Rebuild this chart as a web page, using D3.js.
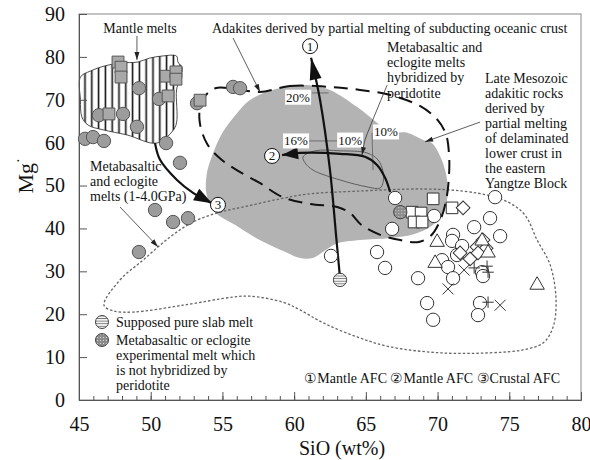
<!DOCTYPE html>
<html>
<head>
<meta charset="utf-8">
<script src="https://cdn.jsdelivr.net/npm/d3@7"></script>
<style>
  html, body { margin: 0; padding: 0; background: #fff; }
  svg { display: block; }
  text { font-family: "Liberation Serif", "Times New Roman", serif; fill: #111; }
</style>
</head>
<body>
<svg id="chart" width="590" height="460"></svg>
<script>
// ---- Data (SiO2 wt%, Mg#) ----
const xTicks = [45, 50, 55, 60, 65, 70, 75, 80];
const yTicks = [0, 10, 20, 30, 40, 50, 60, 70, 80, 90];

// Field of mantle-derived melts (hatched)
const mantleMeltField = [[45.1,75.3],[45.8,76.7],[46.8,77.9],[47.9,78.6],[49.1,78.8],[49.9,79.7],[50.8,80.2],[51.8,80.2],[51.9,78.8],[52.2,77.4],[52.0,74.6],[51.8,72.3],[51.8,64.6],[51.5,62.6],[50.4,59.9],[48.35,61.8],[46.67,63.0],[45.63,64.1],[45.2,66.0],[45.1,70.0]];

// Late Mesozoic adakitic rocks, eastern Yangtze Block (grey field)
const yangtzeField = [[60.4,73.4],[61.1,73.4],[62.5,72.3],[64.4,68.3],[65.8,64.6],[66.7,62.5],[67.9,62.3],[69.0,60.6],[69.6,59.9],[70.2,56.7],[70.6,52.5],[70.7,47.8],[70.4,43.8],[69.6,40.6],[68.4,38.7],[66.7,37.8],[64.6,37.3],[62.9,36.4],[62.0,34.5],[61.3,33.1],[60.4,33.1],[59.4,34.5],[57.6,37.3],[55.9,40.8],[54.5,43.8],[53.9,47.8],[53.9,52.5],[54.3,57.1],[55.0,62.3],[55.9,66.4],[56.9,69.9],[58.5,72.3]];

// Adakites from slab melting (dashed field)
const slabAdakiteField = [[57.6,71.8],[59.7,73.2],[62.5,73.0],[64.6,72.3],[66.7,71.1],[68.8,68.5],[70.0,65.3],[70.6,61.8],[70.8,57.1],[70.8,52.5],[70.6,46.6],[70.2,42.0],[69.5,38.2],[68.6,36.8],[67.4,37.3],[66.0,38.5],[64.7,40.8],[63.9,43.6],[63.0,45.0],[61.1,45.7],[59.2,47.3],[57.6,50.6],[56.0,53.6],[54.8,56.4],[53.9,59.9],[53.4,65.3],[53.6,69.9],[54.5,72.7],[55.9,72.5]];

// Metabasaltic and eclogite melts, 1-4.0 GPa (dotted field)
const eclogiteMeltField = [[46.74,22.1],[47.86,28.0],[49.46,32.6],[51.35,38.0],[52.95,41.5],[54.83,43.8],[56.72,45.2],[59.02,46.9],[60.90,48.0],[64.39,48.7],[68.99,49.2],[71.78,48.7],[73.66,47.6],[75.06,45.9],[76.10,43.1],[76.94,37.3],[77.85,31.5],[78.26,23.3],[78.05,17.0],[77.36,13.3],[75.96,11.7],[73.66,11.0],[70.17,11.0],[66.69,12.4],[64.39,14.7],[62.02,18.0],[60.41,21.0],[59.23,22.8],[56.92,24.2],[55.74,24.0],[52.25,22.1],[48.77,20.5],[47.37,20.8]];

// Melts hybridized by peridotite (thin loop)
const hybridField = [[60.62,56.7],[61.46,58.1],[63.20,58.1],[65.08,57.6],[65.85,56.0],[66.20,53.2],[66.20,50.8],[65.99,49.4],[65.08,49.7],[63.20,51.3],[61.32,53.6],[60.76,55.3]];

// AFC trends
const afc1 = [[63.2,28.4],[62.92,38.5],[62.50,53.6],[61.81,69.9],[61.18,79.8]];
const afc2 = [[66.69,48.5],[66.34,51.8],[65.78,54.8],[64.94,56.7],[63.20,57.4],[60.41,57.6],[59.16,57.1]];
const afc3 = [[50.30,59.9],[50.65,56.0],[51.83,51.3],[52.95,48.3],[54.27,45.9]];
const afcLabels = [{n:"1", x:61.11, y:82.5}, {n:"2", x:58.46, y:56.9}, {n:"3", x:54.69, y:45.5}];

// Experimental melts (grey symbols)
const greyCircles = [[49.18,72.7],[46.39,66.4],[48.07,66.7],[49.04,63.7],[50.58,70.2],[45.42,60.9],[45.98,61.3],[46.74,60.4],[51.07,59.9],[52.04,55.3],[55.74,73.0],[56.23,72.7],[53.23,69.2],[50.30,44.3],[51.56,41.5],[52.60,42.4],[49.18,34.5]];
const greySquares = [[47.72,78.8],[47.93,77.6],[47.93,75.3],[47.09,66.7],[51.07,75.5],[51.76,76.5],[51.76,74.8],[51.21,70.9],[53.44,69.9]];

// Late Mesozoic adakitic rocks (open symbols)
const openCircles = [[67.04,47.1],[69.76,42.9],[66.83,39.9],[62.57,33.6],[65.78,34.5],[66.34,30.8],[68.64,28.4],[74.01,47.3],[73.66,42.4],[72.55,40.3],[74.36,38.2],[71.08,38.5],[71.01,37.1],[71.71,35.9],[71.36,33.8],[70.31,32.6],[70.73,31.0],[71.08,28.4],[69.27,22.6],[69.69,18.7],[72.96,22.6],[72.82,19.8],[73.10,29.8],[73.17,28.9]];
const openSquares = [[68.22,43.8],[68.85,43.6],[68.36,41.5],[68.92,41.5],[69.69,46.9],[71.01,44.8]];
const openDiamonds = [[71.78,44.8],[71.57,34.3],[72.27,32.9],[72.75,35.7],[73.17,37.3],[73.38,35.4],[72.82,34.3]];
const openTriangles = [[69.97,36.8],[69.83,31.9],[73.10,37.1],[73.52,34.3],[76.94,26.8]];
const crosses = [[71.85,30.3],[70.73,25.9],[74.36,22.1]];
const pluses = [[73.45,31.2],[73.52,22.8],[72.55,30.8],[73.52,29.8]];
const slabMelt = [[63.2,28.0]];
const unhybridMelt = [[67.4,43.8]];

// ---- Scales ----
const svg = d3.select("#chart");
const x = d3.scaleLinear().domain([45, 80]).range([79, 581]);
const y = d3.scaleLinear().domain([0, 90]).range([400, 14]);
const P = d => [x(d[0]), y(d[1])];

// ---- Patterns ----
const defs = svg.append("defs");
const vh = defs.append("pattern").attr("id", "vhatch").attr("patternUnits", "userSpaceOnUse")
  .attr("width", 6.8).attr("height", 10);
vh.append("rect").attr("width", 6.8).attr("height", 10).attr("fill", "#fff");
vh.append("line").attr("x1", 3.4).attr("x2", 3.4).attr("y1", 0).attr("y2", 10)
  .attr("stroke", "#111").attr("stroke-width", 1.6);

const hz = defs.append("pattern").attr("id", "hstripe").attr("patternUnits", "userSpaceOnUse")
  .attr("width", 6).attr("height", 2.6);
hz.append("rect").attr("width", 6).attr("height", 2.6).attr("fill", "#fff");
hz.append("line").attr("x1", 0).attr("x2", 6).attr("y1", 1.3).attr("y2", 1.3)
  .attr("stroke", "#777").attr("stroke-width", 1);

const sp = defs.append("pattern").attr("id", "speckle").attr("patternUnits", "userSpaceOnUse")
  .attr("width", 3).attr("height", 3);
sp.append("rect").attr("width", 3).attr("height", 3).attr("fill", "#8c8c8c");
sp.append("rect").attr("x", 1).attr("y", 1).attr("width", 1).attr("height", 1).attr("fill", "#d8d8d8");

const closed = d3.line().x(d => x(d[0])).y(d => y(d[1])).curve(d3.curveCatmullRomClosed.alpha(0.5));
const open = d3.line().x(d => x(d[0])).y(d => y(d[1])).curve(d3.curveCatmullRom.alpha(0.5));

// ---- Fields ----
svg.append("path").attr("d", closed(yangtzeField)).attr("fill", "#b3b3b3");
svg.append("path").attr("d", closed(eclogiteMeltField)).attr("fill", "none")
  .attr("stroke", "#666").attr("stroke-width", 1.3).attr("stroke-dasharray", "2.5,2");
svg.append("path").attr("d", closed(mantleMeltField)).attr("fill", "url(#vhatch)")
  .attr("stroke", "#222").attr("stroke-width", 0.8);
svg.append("path").attr("d", closed(slabAdakiteField)).attr("fill", "none")
  .attr("stroke", "#111").attr("stroke-width", 2).attr("stroke-dasharray", "14,8");
svg.append("path").attr("d", closed(hybridField)).attr("fill", "none")
  .attr("stroke", "#555").attr("stroke-width", 0.9);

// ---- Axes ----
const axisColor = "#555";
svg.append("rect").attr("x", x(45)).attr("y", y(90)).attr("width", x(80) - x(45)).attr("height", y(0) - y(90))
  .attr("fill", "none").attr("stroke", "#888").attr("stroke-width", 1);

const xAxis = svg.append("g").attr("transform", `translate(0,${y(0)})`);
xAxis.call(d3.axisBottom(x).tickValues(d3.range(45, 81, 1)).tickSize(-4).tickFormat(""))
  .call(g => g.select(".domain").attr("stroke", axisColor))
  .call(g => g.selectAll(".tick line").attr("stroke", axisColor));
const xMajor = svg.append("g").attr("transform", `translate(0,${y(0)})`);
xMajor.call(d3.axisBottom(x).tickValues(xTicks).tickSize(-8).tickPadding(17).tickFormat(d3.format("d")))
  .call(g => g.select(".domain").remove())
  .call(g => g.selectAll(".tick line").attr("stroke", axisColor))
  .call(g => g.selectAll("text").attr("font-family", "Liberation Serif").attr("font-size", 20).attr("fill", "#111"));

const yAxis = svg.append("g").attr("transform", `translate(${x(45)},0)`);
yAxis.call(d3.axisLeft(y).tickValues(yTicks).tickSize(-8).tickPadding(14).tickFormat(d3.format("d")))
  .call(g => g.select(".domain").attr("stroke", axisColor))
  .call(g => g.selectAll(".tick line").attr("stroke", axisColor))
  .call(g => g.selectAll("text").attr("font-family", "Liberation Serif").attr("font-size", 20).attr("fill", "#111"));

svg.append("text").attr("x", 299).attr("y", 455).attr("font-size", 20).text("SiO  (wt%)");
svg.append("text").attr("transform", "translate(33,176) rotate(-90)").attr("text-anchor", "middle")
  .attr("font-size", 22).html('Mg<tspan dy="-10" font-size="14">·</tspan>');

// ---- Arrow helpers ----
function arrowHead(p1, p2, len, wid, fill) {
  const dx = p2[0] - p1[0], dy = p2[1] - p1[1];
  const L = Math.hypot(dx, dy), ux = dx / L, uy = dy / L;
  const bx = p2[0] - ux * len, by = p2[1] - uy * len;
  const pts = [[p2[0], p2[1]], [bx - uy * wid / 2, by + ux * wid / 2], [bx + uy * wid / 2, by - ux * wid / 2]];
  svg.append("path").attr("d", "M" + pts.map(p => p.join(",")).join("L") + "Z").attr("fill", fill);
}
function afcArrow(pts, len, wid) {
  svg.append("path").attr("d", open(pts)).attr("fill", "none").attr("stroke", "#111").attr("stroke-width", 2.2);
  const n = pts.length;
  arrowHead(P(pts[n - 2]), P(pts[n - 1]), len, wid, "#111");
}
function noteArrow(pts) {
  svg.append("path").attr("d", open(pts)).attr("fill", "none").attr("stroke", "#333").attr("stroke-width", 0.8);
  const n = pts.length;
  arrowHead(P(pts[n - 2]), P(pts[n - 1]), 8, 5, "#222");
}

// ---- Percent marks along the AFC trends ----
const pctMarks = [
  {t: "20%", x: 60.27, y: 70.6, line: [[61.25, 71.6], [62.4, 71.6]]},
  {t: "16%", x: 60.13, y: 60.4, line: [[61.0, 60.4], [63.0, 60.4]]},
  {t: "10%", x: 63.9, y: 60.6, line: null},
  {t: "10%", x: 66.4, y: 62.5, line: [[65.43, 62.3], [65.5, 53.6]]}
];
pctMarks.forEach(m => {
  if (m.line) svg.append("line").attr("x1", x(m.line[0][0])).attr("y1", y(m.line[0][1]))
    .attr("x2", x(m.line[1][0])).attr("y2", y(m.line[1][1])).attr("stroke", "#666").attr("stroke-width", 0.9);
});

// ---- AFC trends ----
afcArrow(afc1, 22, 12);
afcArrow(afc2, 16, 12);
afcArrow(afc3, 18, 13);

// ---- Symbols ----
const sym = (type, size) => d3.symbol().type(type).size(size)();
function plot(data, path, fill, stroke, rot) {
  svg.append("g").selectAll("path").data(data).join("path")
    .attr("d", path)
    .attr("transform", d => `translate(${x(d[0])},${y(d[1])})` + (rot ? ` rotate(${rot})` : ""))
    .attr("fill", fill).attr("stroke", stroke).attr("stroke-width", 1);
}
const crossType = { draw(ctx, s) { const r = Math.sqrt(s) / 2; ctx.moveTo(-r, -r); ctx.lineTo(r, r); ctx.moveTo(r, -r); ctx.lineTo(-r, r); } };
const plusType = { draw(ctx, s) { const r = Math.sqrt(s) / 2; ctx.moveTo(-r, 0); ctx.lineTo(r, 0); ctx.moveTo(0, -r); ctx.lineTo(0, r); } };

plot(openCircles, sym(d3.symbolCircle, 140), "#fff", "#333");
plot(openSquares, sym(d3.symbolSquare, 135), "#fff", "#333");
plot(openDiamonds, sym(d3.symbolSquare, 95), "#fff", "#333", 45);
plot(openTriangles, sym(d3.symbolTriangle, 90), "#fff", "#333");
plot(crosses, sym(crossType, 120), "none", "#333");
plot(pluses, sym(plusType, 130), "none", "#333");
plot(greyCircles, sym(d3.symbolCircle, 140), "#9c9c9c", "#555");
plot(greySquares, sym(d3.symbolSquare, 140), "#a9a9a9", "#555");
plot(slabMelt, sym(d3.symbolCircle, 140), "url(#hstripe)", "#444");
plot(unhybridMelt, sym(d3.symbolCircle, 140), "url(#speckle)", "#444");

// AFC numbered markers
const lab = svg.append("g").selectAll("g").data(afcLabels).join("g")
  .attr("transform", d => `translate(${x(d.x)},${y(d.y)})`);
lab.append("circle").attr("r", 7.5).attr("fill", "#fff").attr("stroke", "#111").attr("stroke-width", 1);
lab.append("text").attr("text-anchor", "middle").attr("dy", 4.5).attr("font-size", 13).text(d => d.n);

// Percent labels
pctMarks.forEach(m => {
  const t = svg.append("text").attr("x", x(m.x)).attr("y", y(m.y) + 4.5).attr("text-anchor", "middle")
    .attr("font-size", 13).text(m.t);
  const bb = t.node().getBBox();
  svg.insert("rect", () => t.node()).attr("x", bb.x - 1).attr("y", bb.y).attr("width", bb.width + 2)
    .attr("height", bb.height).attr("fill", "#fff");
});

// ---- Annotations ----
noteArrow([[49.04, 84.9], [49.04, 79.3]]);
noteArrow([[55.74, 84.4], [57.62, 71.8]]);
noteArrow([[66.48, 73.4], [65.85, 68.3], [65.29, 63.7], [64.94, 60.6], [64.73, 57.1]]);
noteArrow([[72.96, 64.8], [69.13, 60.2]]);
noteArrow([[47.86, 45.0], [50.51, 35.7]]);

function block(lines, x0, y0, step) {
  const t = svg.append("text").attr("font-size", 14);
  lines.forEach((s, i) => t.append("tspan").attr("x", x0).attr("y", y0 + i * step).text(s));
}
svg.append("text").attr("x", 140).attr("y", 33).attr("text-anchor", "middle").attr("font-size", 14).text("Mantle melts");
svg.append("text").attr("x", 212).attr("y", 33).attr("font-size", 14).text("Adakites derived by partial melting of subducting oceanic crust");
block(["Metabasaltic and", "eclogite melts", "hybridized by", "peridotite"], 387, 52, 15.2);
block(["Late Mesozoic", "adakitic rocks", "derived by", "partial melting", "of delaminated", "lower crust in", "the eastern", "Yangtze Block"], 485, 83, 15);
block(["Metabasaltic", "and eclogite", "melts (1-4.0GPa)"], 90, 171, 15.2);

// ---- Legend ----
svg.append("circle").attr("cx", 102).attr("cy", 322).attr("r", 6.5).attr("fill", "url(#hstripe)").attr("stroke", "#444");
svg.append("circle").attr("cx", 102).attr("cy", 340).attr("r", 6.5).attr("fill", "url(#speckle)").attr("stroke", "#444");
block(["Supposed pure slab melt"], 116, 327, 15);
block(["Metabasaltic or eclogite", "experimental melt which", "is not hybridized by", "peridotite"], 116, 345, 15);
svg.append("text").attr("x", 560).attr("y", 383).attr("text-anchor", "end").attr("font-size", 14)
  .text("\u2460Mantle AFC  \u2461Mantle AFC  \u2462Crustal AFC");
</script>
</body>
</html>
